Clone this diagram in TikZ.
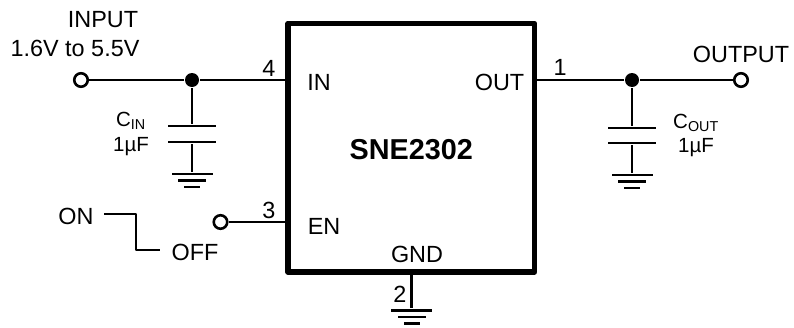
\documentclass[tikz,border=0pt]{standalone}
\usepackage{fontspec}
\setmainfont{Liberation Sans}
\usetikzlibrary{positioning}

\begin{document}
\begin{tikzpicture}[x=1pt,y=-1pt,line width=2.3pt,line join=round,
      label node/.style={inner sep=0, outer sep=0, font=\fontsize{23.4}{28}\selectfont},
      cap node/.style={label node, font=\fontsize{20.5}{24}\selectfont},
      chip node/.style={rectangle,draw,line width=5.5pt,minimum width=246.5pt,minimum height=248.5pt,
          text height=24pt,text depth=0pt,font=\fontsize{28.8}{34}\selectfont\bfseries},
      term node/.style={circle,draw,fill=white,line width=2.6pt,inner sep=0,minimum size=13.5pt},
      dot node/.style={circle,fill=black,inner sep=0,minimum size=14pt},
      bar node/.style={rectangle,fill=black,inner sep=0,minimum height=2.4pt},
      plate node/.style={bar node,minimum width=48pt},
      gnd a/.style={bar node,minimum width=41pt},
      gnd b/.style={bar node,minimum width=28pt},
      gnd c/.style={bar node,minimum width=16pt}]
    \useasboundingbox (0,0) rectangle (794,327);

    \node[chip node] (ic) at (411.25,147.75) {SNE2302};

    % input side
    \node[term node] (inp) at (81,80) {};
    \node[dot node] (jin) at (192,80) {};
    \coordinate (pin4) at (288,80);
    \node[plate node] (cin1) [below of=jin,node distance=46pt] {};
    \node[plate node] (cin2) [below of=cin1,node distance=16pt] {};
    \node[gnd a] (gin1) [below of=cin2,node distance=32pt] {};
    \node[gnd b] (gin2) [below of=gin1,node distance=6.5pt] {};
    \node[gnd c] (gin3) [below of=gin2,node distance=6.5pt] {};

    % output side
    \node[dot node] (jout) at (632,80) {};
    \node[term node] (outp) at (741,80) {};
    \coordinate (pin1) at (534.5,80);
    \node[plate node] (cout1) [below of=jout,node distance=48pt] {};
    \node[plate node] (cout2) [below of=cout1,node distance=15pt] {};
    \node[gnd a] (gout1) [below of=cout2,node distance=32pt] {};
    \node[gnd b] (gout2) [below of=gout1,node distance=6.5pt] {};
    \node[gnd c] (gout3) [below of=gout2,node distance=6.5pt] {};

    % enable and ground pins
    \node[term node] (en) at (220.5,222) {};
    \coordinate (pin3) at (288,222);
    \coordinate (pin2) at (411.5,272);
    \node[gnd a] (gic1) at (411.5,310.5) {};
    \node[gnd b] (gic2) [below of=gic1,node distance=6.5pt] {};
    \node[gnd c] (gic3) [below of=gic2,node distance=6.5pt] {};
    \coordinate (on) at (104,214);
    \coordinate (onb) at (136,214);
    \coordinate (offb) at (136,250);
    \coordinate (off) at (160,250);

    \draw (inp) -- (jin) -- (pin4);
    \draw (jin) -- (cin1);
    \draw (cin2) -- (gin1);
    \draw (pin1) -- (jout) -- (outp);
    \draw (jout) -- (cout1);
    \draw (cout2) -- (gout1);
    \draw (en) -- (pin3);
    \draw (pin2) -- (gic1);
    \draw (on) -- (onb) -- (offb) -- (off);

    \node[label node] (linput) at (103,20) {INPUT};
    \node[label node] (lrange) at (75,48) {1.6V to 5.5V};
    \node[label node] (loutput) at (741,54) {OUTPUT};
    \node[cap node] (lcin) at (131,121) {C\textsubscript{IN}};
    \node[cap node] (lcinv) at (131,147) {1µF};
    \node[cap node] (lcout) at (696,123) {C\textsubscript{OUT}};
    \node[cap node] (lcoutv) at (696,148) {1µF};
    \node[label node] (lon) at (76,216) {ON};
    \node[label node] (loff) at (195,252) {OFF};
    \node[label node] (lin) at (319,82) {IN};
    \node[label node] (lout) at (499.5,82) {OUT};
    \node[label node] (len) at (324,226) {EN};
    \node[label node] (lgnd) at (417,254) {GND};
    \node[label node] (lfour) at (269,68) {4};
    \node[label node] (lone) at (560,67) {1};
    \node[label node] (lthree) at (269,210) {3};
    \node[label node] (ltwo) at (400,294) {2};

  \end{tikzpicture}
\end{document}
